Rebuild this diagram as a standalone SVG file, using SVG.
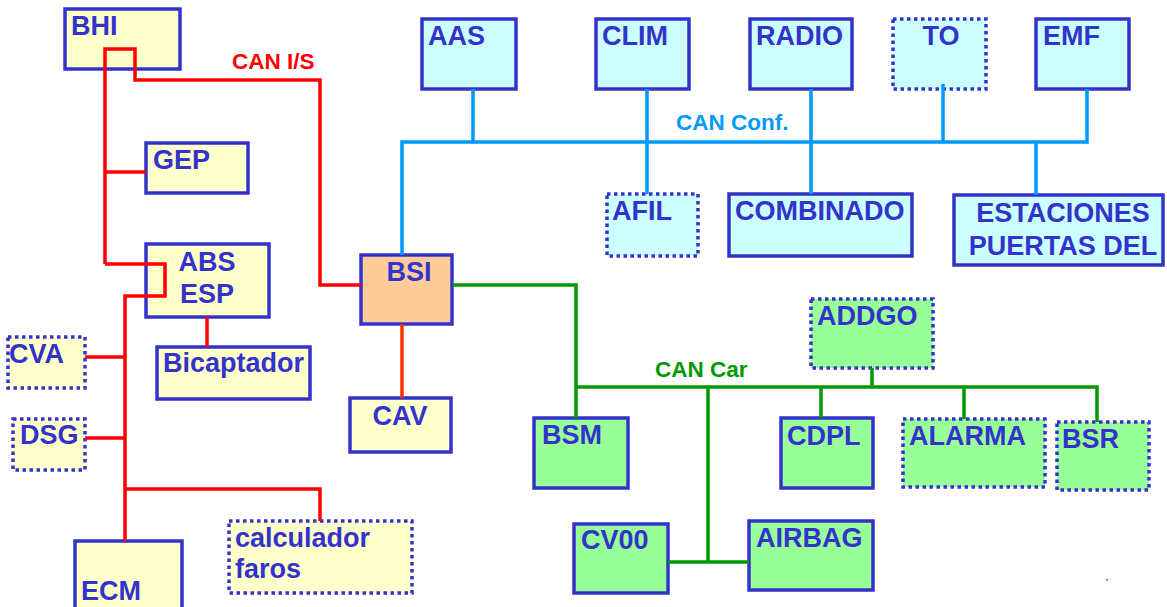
<svg xmlns="http://www.w3.org/2000/svg" width="1167" height="607" viewBox="0 0 1167 607">
<style>
.n{stroke:#3333cc;stroke-width:3.5}
.d{stroke:#3333cc;stroke-width:3.5;stroke-dasharray:3.5 3.5}
.y{fill:#ffffcc}.c{fill:#ccffff}.g{fill:#99ff99}.p{fill:#ffcc99}
.t{font-family:"Liberation Sans",Arial,sans-serif;font-weight:bold;font-size:27px;fill:#3333cc}
.m{text-anchor:middle}
.l{font-family:"Liberation Sans",Arial,sans-serif;font-weight:bold;font-size:22.5px}
.r{fill:none;stroke:#ff0000;stroke-width:3.5}
.b{fill:none;stroke:#0099ff;stroke-width:3.5}
.e{fill:none;stroke:#009900;stroke-width:3.5}
</style>
<rect width="1167" height="607" fill="#ffffff"/>
<g id="BHI"><rect class="n y" x="65" y="9" width="115" height="60"/><text class="t" x="71" y="35">BHI</text></g>
<g id="GEP"><rect class="n y" x="146" y="143" width="102" height="50"/><text class="t" x="153" y="169">GEP</text></g>
<g id="ABS"><rect class="n y" x="146" y="244" width="123" height="73"/><text class="t m" x="207" y="271">ABS</text><text class="t m" x="207" y="303">ESP</text></g>
<g id="Bicaptador"><rect class="n y" x="157" y="347" width="153" height="52"/><text class="t" x="163" y="372">Bicaptador</text></g>
<g id="CVA"><rect class="d y" x="8" y="337" width="77" height="51"/><text class="t" x="9" y="363">CVA</text></g>
<g id="DSG"><rect class="d y" x="13" y="419" width="72" height="51"/><text class="t" x="20" y="444">DSG</text></g>
<g id="ECM"><rect class="n y" x="75" y="541" width="107" height="80"/><text class="t" x="81" y="600">ECM</text></g>
<g id="calculador"><rect class="d y" x="229" y="521" width="183" height="72"/><text class="t" x="235" y="547">calculador</text><text class="t" x="235" y="578">faros</text></g>
<g id="BSI"><rect class="n p" x="361" y="255" width="91" height="69"/><text class="t m" x="409" y="281">BSI</text></g>
<g id="CAV"><rect class="n y" x="350" y="398" width="101" height="54"/><text class="t m" x="400" y="425">CAV</text></g>
<g id="AAS"><rect class="n c" x="422" y="19" width="94" height="70"/><text class="t" x="428" y="45">AAS</text></g>
<g id="CLIM"><rect class="n c" x="596" y="19" width="93" height="70"/><text class="t" x="602" y="45">CLIM</text></g>
<g id="RADIO"><rect class="n c" x="750" y="19" width="102" height="70"/><text class="t" x="756" y="45">RADIO</text></g>
<g id="TO"><rect class="d c" x="893" y="19" width="93" height="70"/><text class="t m" x="941" y="45">TO</text></g>
<g id="EMF"><rect class="n c" x="1036" y="19" width="93" height="70"/><text class="t" x="1043" y="45">EMF</text></g>
<g id="AFIL"><rect class="d c" x="607" y="194" width="91" height="62"/><text class="t" x="612" y="220">AFIL</text></g>
<g id="COMBINADO"><rect class="n c" x="729" y="194" width="183" height="62"/><text class="t" x="735" y="220">COMBINADO</text></g>
<g id="ESTACIONES"><rect class="n c" x="954" y="195" width="209" height="70"/><text class="t m" x="1063" y="222">ESTACIONES</text><text class="t m" x="1063" y="255">PUERTAS DEL</text></g>
<g id="BSM"><rect class="n g" x="534" y="418" width="94" height="70"/><text class="t" x="542" y="444">BSM</text></g>
<g id="CV00"><rect class="n g" x="574" y="524" width="94" height="69"/><text class="t" x="581" y="549">CV00</text></g>
<g id="AIRBAG"><rect class="n g" x="749" y="521" width="124" height="69"/><text class="t" x="756" y="547">AIRBAG</text></g>
<g id="CDPL"><rect class="n g" x="781" y="418" width="92" height="70"/><text class="t" x="787" y="445">CDPL</text></g>
<g id="ADDGO"><rect class="d g" x="811" y="299" width="122" height="69"/><text class="t" x="817" y="325">ADDGO</text></g>
<g id="ALARMA"><rect class="d g" x="903" y="419" width="142" height="68"/><text class="t" x="909" y="445">ALARMA</text></g>
<g id="BSR"><rect class="d g" x="1057" y="422" width="92" height="68"/><text class="t" x="1062" y="448">BSR</text></g>
<g id="connectors">
<path class="r" d="M105,264 L105,49 L135,49 L135,80 L320,80 L320,285 L361,285"/>
<path class="r" d="M105,172 L146,172"/>
<path class="r" d="M105,264 L165,264 L165,296 L125,296 L125,541"/>
<path class="r" d="M85,357 L125,357 M85,438 L125,438 M125,489 L320,489 L320,521"/>
<path class="r" d="M207,317 L207,347"/>
<path fill="none" stroke="#ff3300" stroke-width="3.5" d="M402,324 L402,398"/>
<path class="b" d="M402,255 L402,142 L1087,142 L1087,89 M473,89 L473,142 M647,89 L647,194 M811,89 L811,194 M943,84 L943,142 M1036,142 L1036,195"/>
<path class="e" d="M452,285 L576,285 L576,418 M576,387 L1097,387 L1097,422 M872,368 L872,387 M821,387 L821,418 M964,387 L964,419 M708,387 L708,562 M668,562 L749,562"/>
<rect x="1106" y="579" width="2" height="1.5" fill="#ff3300"/>
</g>
<text class="l" x="232" y="69" fill="#ff0000">CAN I/S</text>
<text class="l" x="676" y="130" fill="#0099ff">CAN Conf.</text>
<text class="l" x="655" y="377" fill="#009900">CAN Car</text>
</svg>
